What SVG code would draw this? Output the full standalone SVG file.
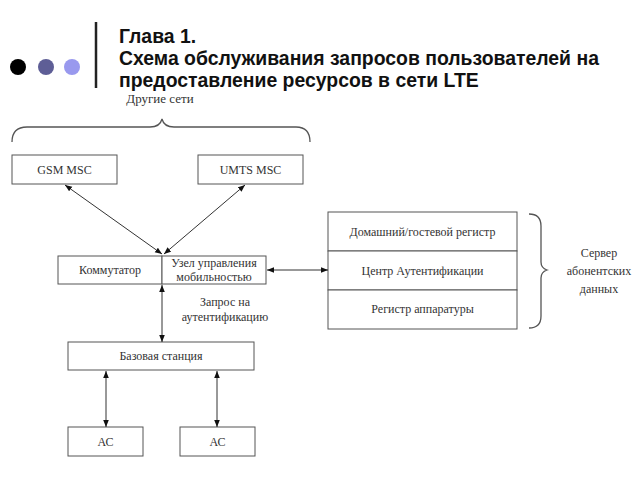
<svg xmlns="http://www.w3.org/2000/svg" width="640" height="480" viewBox="0 0 640 480">
<style>
.box{fill:#fff;stroke:#555;stroke-width:1}
.t{font-family:"Liberation Serif","Times New Roman",serif;font-size:12px;fill:#333;text-anchor:middle}
.h{font-family:"Liberation Sans",Arial,sans-serif;font-size:19.4px;font-weight:bold;fill:#111}
.c{stroke:#333;stroke-width:1;fill:none}
.br{stroke:#555;stroke-width:1.3;fill:none}
</style>
<defs>
<marker id="a" viewBox="0 0 10 10" refX="10" refY="5" markerWidth="7" markerHeight="7" orient="auto-start-reverse" markerUnits="userSpaceOnUse">
<path d="M0,1 L10,5 L0,9 z" fill="#111"/>
</marker>
</defs>
<rect width="640" height="480" fill="#fff"/>
<g id="header">
<circle cx="18" cy="67" r="8" fill="#000"/>
<circle cx="46" cy="67" r="8" fill="#5e5e96"/>
<circle cx="72" cy="67" r="8" fill="#9999ee"/>
<line x1="96" y1="22" x2="96" y2="88" stroke="#222" stroke-width="2.5"/>
<text class="h" x="119" y="43">Глава 1.</text>
<text class="h" x="119" y="65">Схема обслуживания запросов пользователей на</text>
<text class="h" x="119" y="87">предоставление ресурсов в сети LTE</text>
</g>
<g id="other-networks">
<text class="t" x="160" y="103" style="font-size:13px">Другие сети</text>
<path class="br" d="M12,142 Q12,127 27,127 L150,127 Q160,127 162,119 Q164,127 174,127 L296,127 Q310,127 310,142"/>
</g>
<g id="gsm"><rect class="box" x="12" y="155" width="105" height="29"/><text class="t" x="64.5" y="174">GSM MSC</text></g>
<g id="umts"><rect class="box" x="198" y="155" width="105" height="29"/><text class="t" x="250.5" y="174">UMTS MSC</text></g>
<g id="switch"><rect class="box" x="58" y="256" width="104" height="28"/><text class="t" x="110" y="274">Коммутатор</text></g>
<g id="mme"><rect class="box" x="162" y="256" width="104" height="28"/><text class="t" x="214" y="267">Узел управления</text><text class="t" x="214" y="281">мобильностью</text></g>
<g id="hss-hlr"><rect class="box" x="328" y="212" width="189" height="39"/><text class="t" x="422.5" y="236">Домашний/гостевой регистр</text></g>
<g id="hss-auc"><rect class="box" x="328" y="251" width="189" height="39"/><text class="t" x="422.5" y="275">Центр Аутентификации</text></g>
<g id="hss-eir"><rect class="box" x="328" y="290" width="189" height="39"/><text class="t" x="422.5" y="313">Регистр аппаратуры</text></g>
<g id="hss-label">
<path class="br" d="M529,214 Q541,214 541,226 L541,262 Q541,268 547,270 Q541,272 541,278 L541,316 Q541,328 529,328"/>
<text class="t" x="599" y="257">Сервер</text>
<text class="t" x="599" y="275">абонентских</text>
<text class="t" x="599" y="293">данных</text>
</g>
<g id="enb"><rect class="box" x="68" y="342" width="186" height="28"/><text class="t" x="161" y="360">Базовая станция</text></g>
<g id="ac1"><rect class="box" x="68" y="427" width="75" height="29"/><text class="t" x="105.5" y="446">АС</text></g>
<g id="ac2"><rect class="box" x="180" y="427" width="75" height="29"/><text class="t" x="217.5" y="446">АС</text></g>
<g id="connectors">
<line class="c" x1="162" y1="254" x2="65" y2="185" marker-start="url(#a)" marker-end="url(#a)"/>
<line class="c" x1="164" y1="254" x2="245" y2="185" marker-start="url(#a)" marker-end="url(#a)"/>
<line class="c" x1="267" y1="270" x2="328" y2="270" marker-start="url(#a)" marker-end="url(#a)"/>
<line class="c" x1="162" y1="285" x2="162" y2="342" marker-start="url(#a)" marker-end="url(#a)"/>
<line class="c" x1="106" y1="371" x2="106" y2="427" marker-start="url(#a)" marker-end="url(#a)"/>
<line class="c" x1="217" y1="371" x2="217" y2="427" marker-start="url(#a)" marker-end="url(#a)"/>
<text class="t" x="225" y="306">Запрос на</text>
<text class="t" x="225" y="321">аутентификацию</text>
</g>
</svg>
